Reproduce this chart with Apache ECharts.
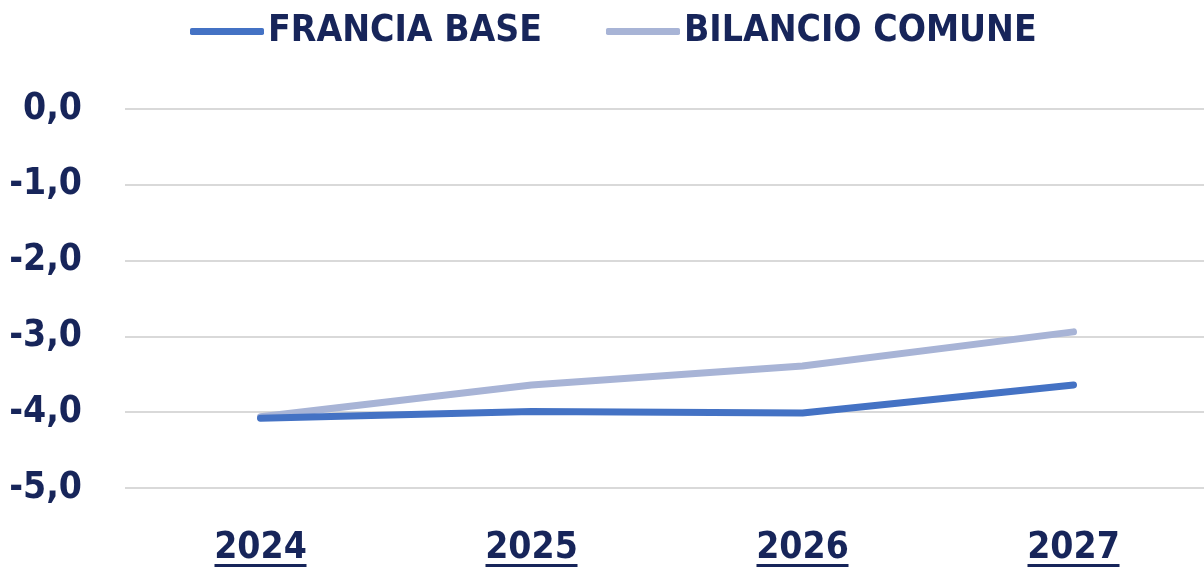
<!DOCTYPE html>
<html>
<head>
<meta charset="utf-8">
<script src="https://cdn.jsdelivr.net/npm/echarts@6/dist/echarts.min.js"></script>
<style>
  html, body { margin: 0; padding: 0; background: #ffffff; }
  #chart { width: 1204px; height: 569px; }
</style>
</head>
<body>
<div id="chart"></div>
<script>
// Saldo di bilancio (% PIL), scenari a confronto
const years = ['2024', '2025', '2026', '2027'];
const franciaBase = [-4.08, -3.99, -4.01, -3.64];
const bilancioComune = [-4.06, -3.64, -3.39, -2.94];
const seriesNames = ['FRANCIA BASE', 'BILANCIO COMUNE'];

const NAVY = '#17255A';
const FONT = '"Liberation Sans Narrow", "DejaVu Sans Condensed", "Liberation Sans", sans-serif';

const chart = echarts.init(document.getElementById('chart'));
chart.setOption({
  animation: false,
  backgroundColor: '#ffffff',
  legend: {
    left: 185,
    top: 8,
    itemWidth: 74,
    itemHeight: 7,
    itemGap: 64,
    icon: 'roundRect',
    data: seriesNames,
    textStyle: { color: NAVY, fontFamily: FONT, fontWeight: 'bold', fontSize: 37, padding: [0, 0, 0, -1] }
  },
  grid: { left: 125, right: -5, top: 109, height: 379, outerBoundsMode: 'none' },
  xAxis: {
    type: 'category',
    data: years,
    boundaryGap: true,
    axisLine: { show: false },
    axisTick: { show: false },
    axisLabel: {
      margin: 45,
      formatter: v => '{y|' + v + '}\n{u| }',
      rich: {
        y: { color: NAVY, fontFamily: FONT, fontWeight: 'bold', fontSize: 37, lineHeight: 31 },
        u: { width: 92, height: 3, backgroundColor: NAVY, lineHeight: 3 }
      }
    }
  },
  yAxis: {
    type: 'value',
    min: -5,
    max: 0,
    interval: 1,
    axisLine: { show: false },
    axisTick: { show: false },
    splitLine: { lineStyle: { color: '#d9d9d9', width: 2 } },
    axisLabel: {
      margin: 43,
      color: NAVY,
      fontFamily: FONT,
      fontWeight: 'bold',
      fontSize: 37,
      formatter: v => v.toFixed(1).replace('.', ',')
    }
  },
  series: [
    {
      name: seriesNames[0],
      type: 'line',
      data: franciaBase,
      showSymbol: false,
      color: '#4472C4',
      lineStyle: { width: 7, color: '#4472C4', cap: 'round' },
      z: 3
    },
    {
      name: seriesNames[1],
      type: 'line',
      data: bilancioComune,
      showSymbol: false,
      color: '#A8B4D6',
      lineStyle: { width: 7, color: '#A8B4D6', cap: 'round' },
      z: 2
    }
  ]
});
</script>
</body>
</html>
